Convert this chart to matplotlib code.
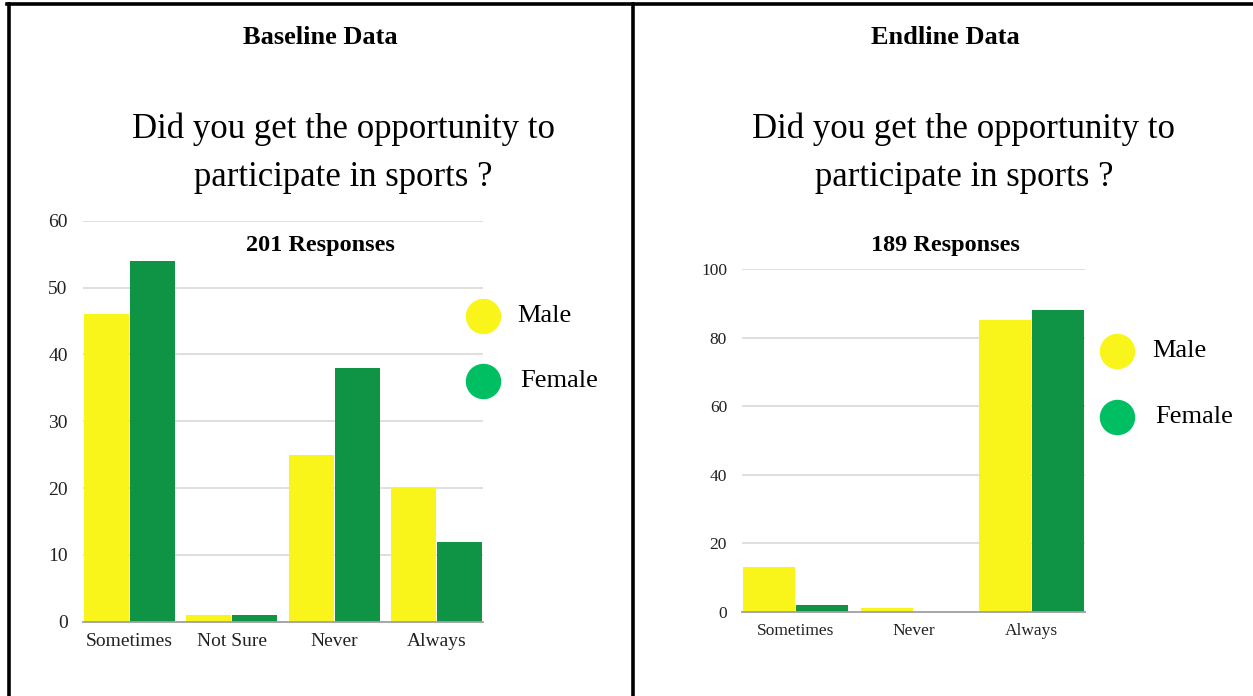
import matplotlib.pyplot as plt
from matplotlib.lines import Line2D
import numpy as np

# Baseline survey
base_categories = ["Sometimes", "Not Sure", "Never", "Always"]
base_male = [46, 1, 25, 20]
base_female = [54, 1, 38, 12]

# Endline survey
end_categories = ["Sometimes", "Never", "Always"]
end_male = [13, 1, 85]
end_female = [2, 0, 88]

question = "Did you get the opportunity to\nparticipate in sports ?"
YELLOW = "#f9f51b"
GREEN = "#0e9444"
LEGEND_GREEN = "#00bf63"

W, H = 1253, 696
plt.rcParams["font.family"] = ["Liberation Serif", "DejaVu Serif"]

fig = plt.figure(figsize=(W / 100, H / 100), dpi=100)


def fx(x):
    return x / W


def fy(y):
    return 1 - y / H


def bar_chart(rect, cats, male, female, ymax, yticks, fs):
    left, top, right, bottom = rect
    ax = fig.add_axes([fx(left), fy(bottom), fx(right - left), (bottom - top) / H])
    x = np.arange(len(cats))
    ax.bar(x - 0.225, male, width=0.44, color=YELLOW, zorder=3)
    ax.bar(x + 0.225, female, width=0.44, color=GREEN, zorder=3)
    ax.set_xlim(-0.45, len(cats) - 0.55)
    ax.set_ylim(0, ymax)
    ax.set_yticks(yticks)
    ax.set_xticks(x)
    ax.set_xticklabels(cats)
    ax.grid(axis="y", color="#d9d9d9", linewidth=1.2, zorder=0)
    for s in ["top", "right", "left"]:
        ax.spines[s].set_visible(False)
    ax.spines["bottom"].set_color("#a0a0a0")
    ax.spines["bottom"].set_linewidth(1.3)
    ax.spines["bottom"].set_zorder(4)
    ax.tick_params(length=0, labelsize=fs, colors="#222222")
    ax.tick_params(axis="y", pad=11)
    ax.tick_params(axis="x", pad=8)
    return ax


def legend(x, y_male, y_female, text_x):
    for y, c, lab, dx in [(y_male, YELLOW, "Male", 0), (y_female, LEGEND_GREEN, "Female", 3)]:
        fig.add_artist(Line2D([fx(x)], [fy(y)], marker="o", markersize=24.5,
                              color=c, linestyle="none", transform=fig.transFigure))
        fig.text(fx(text_x + dx), fy(y), lab, fontsize=19, va="center", ha="left")


# left panel
bar_chart((83, 220.7, 483, 621.7), base_categories, base_male, base_female,
          60, range(0, 61, 10), 14)
fig.text(fx(320), fy(38), "Baseline Data", fontsize=19, fontweight="bold", ha="center", va="center")
fig.text(fx(343), fy(153), question, fontsize=25, ha="center", va="center", linespacing=1.62)
fig.text(fx(320), fy(246), "201 Responses", fontsize=17.5, fontweight="bold", ha="center", va="center")
legend(483, 316, 381, 517)

# right panel
bar_chart((742.3, 269, 1085, 611.7), end_categories, end_male, end_female,
          100, range(0, 101, 20), 12.5)
fig.text(fx(945), fy(38), "Endline Data", fontsize=19, fontweight="bold", ha="center", va="center")
fig.text(fx(964), fy(153), question, fontsize=25, ha="center", va="center", linespacing=1.62)
fig.text(fx(945), fy(246), "189 Responses", fontsize=17.5, fontweight="bold", ha="center", va="center")
legend(1117, 351, 417, 1152)

# table borders
lw = 2.6
fig.add_artist(Line2D([fx(8.5), fx(8.5)], [fy(3.5), fy(H)], color="black", linewidth=lw, transform=fig.transFigure))
fig.add_artist(Line2D([fx(7), fx(W)], [fy(3.5), fy(3.5)], color="black", linewidth=lw, transform=fig.transFigure))
fig.add_artist(Line2D([fx(632.5), fx(632.5)], [fy(3.5), fy(H)], color="black", linewidth=lw, transform=fig.transFigure))

fig.savefig("out.png", dpi=100, facecolor="white")
